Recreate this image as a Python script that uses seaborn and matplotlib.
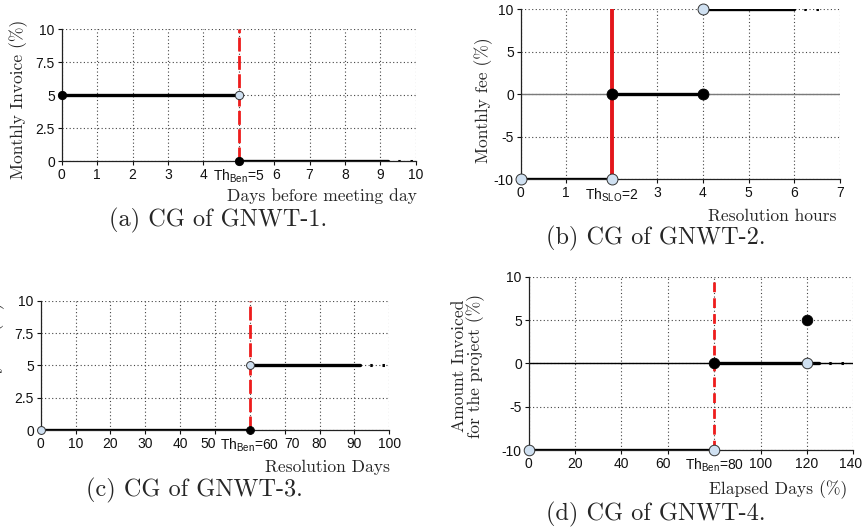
import seaborn as sns
import matplotlib.pyplot as plt
from matplotlib.transforms import ScaledTranslation

# ---- valores ----
# (a) CG of GNWT-1
a_xticks = [0, 1, 2, 3, 4, 5, 6, 7, 8, 9, 10]
a_yticks = [0, 2.5, 5, 7.5, 10]
a_ylabels = ['0', '2.5', '5', '7.5', '10']
a_th = 5
a_seg_start = [0, 5]
a_seg_end = [5, 9.22]
a_seg_level = [5, 0]
a_dot_x = [9.22, 10]
a_dot_y = [0, 0]
a_closed_x = [0, 5]
a_closed_y = [5, 0]
a_open_x = [5]
a_open_y = [5]

# (b) CG of GNWT-2
b_xticks = [0, 1, 2, 3, 4, 5, 6, 7]
b_yticks = [-10, -5, 0, 5, 10]
b_ylabels = ['-10', '-5', '0', '5', '10']
b_th = 2
b_seg_start = [0, 2, 4]
b_seg_end = [2, 4, 6]
b_seg_level = [-10, 0, 10]
b_dot_x = [6, 6.65]
b_dot_y = [10, 10]
b_closed_x = [2, 4]
b_closed_y = [0, 0]
b_open_x = [0, 2, 4]
b_open_y = [-10, -10, 10]

# (c) CG of GNWT-3
c_xticks = [0, 10, 20, 30, 40, 50, 60, 70, 80, 90, 100]
c_yticks = [0, 2.5, 5, 7.5, 10]
c_ylabels = ['0', '2.5', '5', '7.5', '10']
c_th = 60
c_seg_start = [0, 60]
c_seg_end = [60, 91.6]
c_seg_level = [0, 5]
c_dot_x = [91.6, 100]
c_dot_y = [5, 5]
c_closed_x = [60]
c_closed_y = [0]
c_open_x = [0, 60]
c_open_y = [0, 5]

# (d) CG of GNWT-4
d_xticks = [0, 20, 40, 60, 80, 100, 120, 140]
d_yticks = [-10, -5, 0, 5, 10]
d_ylabels = ['-10', '-5', '0', '5', '10']
d_th = 80
d_seg_start = [0, 80, 120]
d_seg_end = [80, 120, 125]
d_seg_level = [-10, 0, 0]
d_dot_x = [125, 140]
d_dot_y = [0, 0]
d_closed_x = [80, 120]
d_closed_y = [0, 5]
d_open_x = [0, 80, 120]
d_open_y = [-10, -10, 0]

sns.set_style('white')
plt.rcParams['font.family'] = ['Liberation Sans', 'DejaVu Sans']
plt.rcParams['mathtext.fontset'] = 'custom'
plt.rcParams['mathtext.rm'] = 'Liberation Sans'
plt.rcParams['mathtext.it'] = 'Liberation Sans:italic'
plt.rcParams['axes.unicode_minus'] = False

SERIF = 'cmr10'
W, H = 863, 531
fig = plt.figure(figsize=(W / 100, H / 100), dpi=100)


def px_axes(l, r, t, b):
    return fig.add_axes([l / W, 1 - b / H, (r - l) / W, (b - t) / H])


def painel(ax, xt, yt, ylbl, th, th_name, s0, s1, lvl, dx, dy,
           cx, cy, ox, oy, ms, red_solid=False, zero_line=None, dash=(4.5, 2),
           shift=None):
    ax.set_xlim(xt[0], xt[-1])
    ax.set_ylim(yt[0], yt[-1])
    ax.set_xticks(xt)
    ax.set_xticklabels([f'Th$_{{\\mathrm{{{th_name}}}}}$={t}' if t == th else str(t) for t in xt])
    ax.set_yticks(yt)
    ax.set_yticklabels(ylbl)
    ax.tick_params(labelsize=10, length=3, width=0.8, direction='out',
                   bottom=True, left=True, pad=2, colors='#111111')
    # rótulos deslocados à mão, como no original
    if shift:
        for t, lab in zip(xt, ax.get_xticklabels()):
            if t in shift:
                lab.set_transform(lab.get_transform() +
                                  ScaledTranslation(shift[t] / 100, 0, fig.dpi_scale_trans))
    ax.grid(True, linestyle=(0, (1, 2.2)), color='#444444', linewidth=0.8)
    for sp in ['top', 'right']:
        ax.spines[sp].set_visible(False)
    for sp in ['left', 'bottom']:
        ax.spines[sp].set_color('#222222')
        ax.spines[sp].set_linewidth(0.9)
        ax.spines[sp].set_zorder(2)
    if zero_line is not None:
        ax.axhline(0, color=zero_line, lw=1.0, zorder=2)
    # limiar
    if red_solid:
        ax.axvline(th, color='#e3161b', lw=2.8, zorder=2.5)
    else:
        ax.axvline(th, color='#ee1c1c', lw=2.0, dashes=dash, zorder=2.5)
    # degraus
    for a, b, v in zip(s0, s1, lvl):
        sns.lineplot(x=[a, b], y=[v, v], ax=ax, color='black', lw=2.4,
                     estimator=None, sort=False, zorder=3)
    # continuação pontilhada
    sns.lineplot(x=dx, y=dy, ax=ax, color='black', lw=2.2,
                 estimator=None, sort=False, zorder=3)
    ax.lines[-1].set_linestyle((0.8, (0.8, 3.2)))
    sns.scatterplot(x=cx, y=cy, ax=ax, color='black', s=ms, edgecolor='black',
                    linewidth=0.6, zorder=4, clip_on=False)
    sns.scatterplot(x=ox, y=oy, ax=ax, color='#cfe0f1', s=ms, edgecolor='#333333',
                    linewidth=0.7, zorder=4, clip_on=False)
    ax.set_xlabel('')
    ax.set_ylabel('')


ax_a = px_axes(61.7, 415.7, 29.3, 161)
painel(ax_a, a_xticks, a_yticks, a_ylabels, a_th, 'Ben', a_seg_start, a_seg_end,
       a_seg_level, a_dot_x, a_dot_y, a_closed_x, a_closed_y, a_open_x, a_open_y, 36,
       dash=(5, 1.6), shift={6: 2})

ax_b = px_axes(520.7, 839.7, 9.3, 179.3)
painel(ax_b, b_xticks, b_yticks, b_ylabels, b_th, 'SLO', b_seg_start, b_seg_end,
       b_seg_level, b_dot_x, b_dot_y, b_closed_x, b_closed_y, b_open_x, b_open_y, 62,
       red_solid=True, zero_line='#7a7a7a')

ax_c = px_axes(40.7, 389.3, 300.7, 430)
painel(ax_c, c_xticks, c_yticks, c_ylabels, c_th, 'Ben', c_seg_start, c_seg_end,
       c_seg_level, c_dot_x, c_dot_y, c_closed_x, c_closed_y, c_open_x, c_open_y, 32,
       dash=(5, 1.6), shift={50: -7, 70: 7})

ax_d = px_axes(528.7, 853.3, 276.7, 450)
painel(ax_d, d_xticks, d_yticks, d_ylabels, d_th, 'Ben', d_seg_start, d_seg_end,
       d_seg_level, d_dot_x, d_dot_y, d_closed_x, d_closed_y, d_open_x, d_open_y, 58,
       zero_line='black', dash=(3.5, 2.2), shift={60: -5, 140: -3})

# rótulos dos eixos
rot = dict(fontfamily=SERIF, fontsize=12.6)
for ax, xl, xpos, yl, ypos in [
        (ax_a, 'Days before meeting day', (1.004, -0.300), 'Monthly Invoice (%)', (-0.1226, 0.47)),
        (ax_b, 'Resolution hours', (0.9915, -0.2435), 'Monthly fee (%)', (-0.1166, 0.466)),
        (ax_c, 'Resolution Days', (1.002, -0.327), 'Monthly fee (%)', (-0.128, 0.5)),
        (ax_d, 'Elapsed Days (%)', (0.981, -0.256), 'Amount Invoiced\nfor the project (%)', (-0.1855, 0.485))]:
    ax.set_xlabel(xl, ha='right', va='baseline', **rot)
    ax.xaxis.set_label_coords(*xpos)
    ax.set_ylabel(yl, va='center', ha='center', linespacing=1.0, **rot)
    ax.yaxis.set_label_coords(*ypos)

# legendas das subfiguras
cap = dict(fontfamily=SERIF, fontsize=17.5, ha='center', va='baseline')
fig.text(218 / W, 1 - 226 / H, '(a) CG of GNWT-1.', **cap)
fig.text(656 / W, 1 - 244 / H, '(b) CG of GNWT-2.', **cap)
fig.text(194 / W, 1 - 496.7 / H, '(c) CG of GNWT-3.', **cap)
fig.text(656 / W, 1 - 520 / H, '(d) CG of GNWT-4.', **cap)

fig.savefig('out.png', dpi=100)
plt.close(fig)
